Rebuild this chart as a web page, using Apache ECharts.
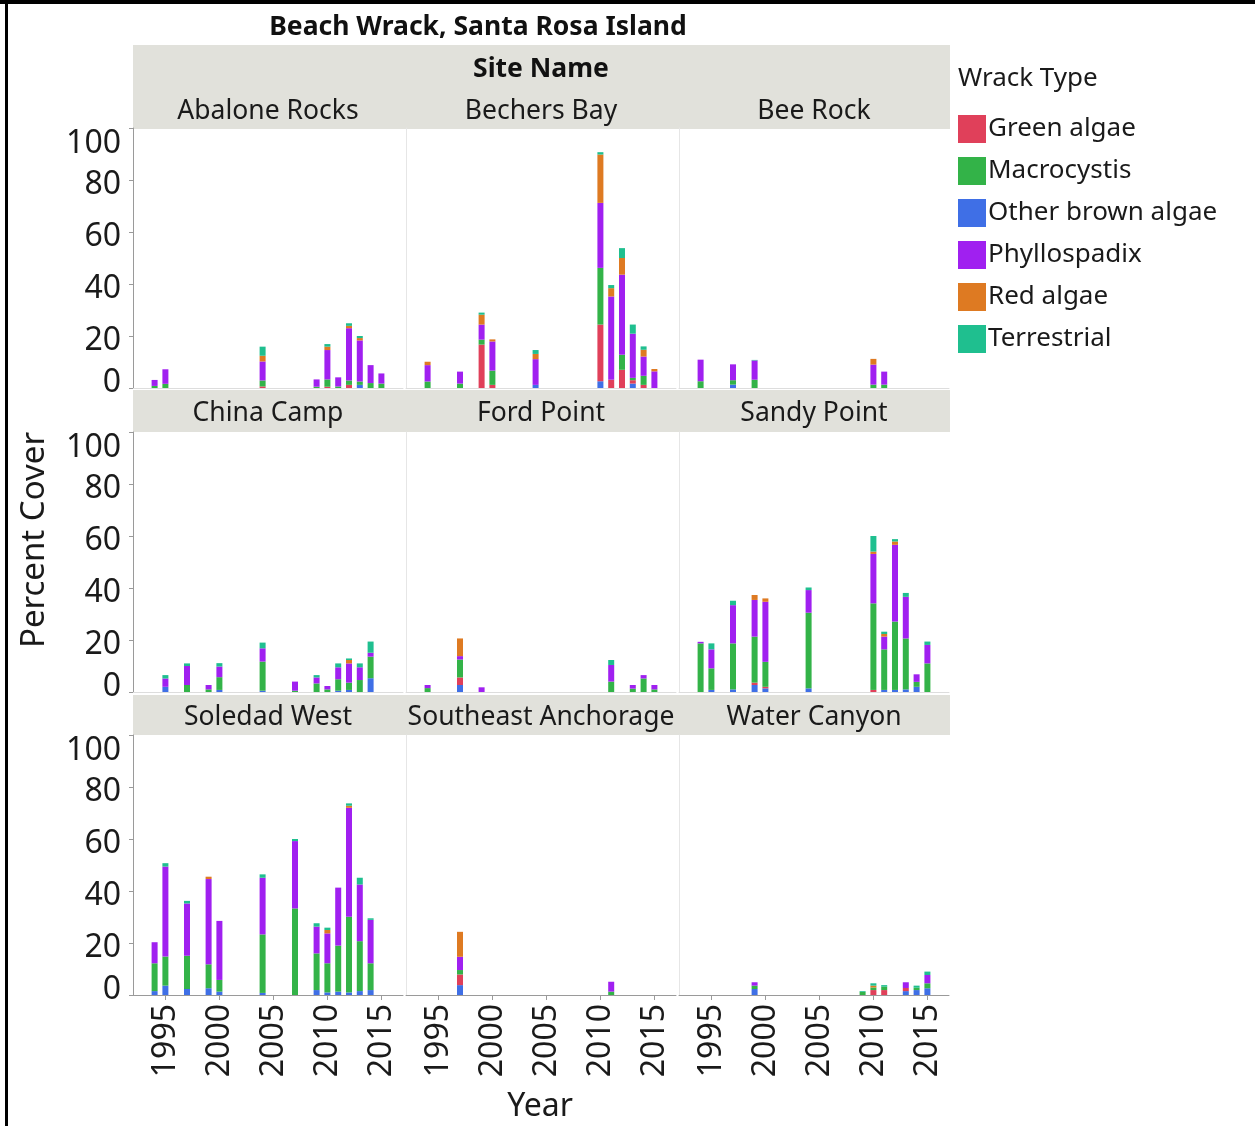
<!DOCTYPE html>
<html>
<head>
<meta charset="utf-8">
<script src="https://cdn.jsdelivr.net/npm/echarts@6/dist/echarts.min.js"></script>
<style>
html, body { margin: 0; padding: 0; background: #fff; }
#chart { width: 1255px; height: 1126px; }
</style>
</head>
<body>
<div id="chart"></div>
<script>
// legend order
const wrackTypes = ['Green algae', 'Macrocystis', 'Other brown algae', 'Phyllospadix', 'Red algae', 'Terrestrial'];
const wrackColors = ['#E0405A', '#33B348', '#3F6FE6', '#A020F0', '#DE7A22', '#1FBF8F'];
// stacking bottom -> top (indexes into wrackTypes)
const stackOrder = [2, 0, 1, 3, 4, 5];

const sites = ['Abalone Rocks', 'Bechers Bay', 'Bee Rock', 'China Camp', 'Ford Point', 'Sandy Point',
  'Soledad West', 'Southeast Anchorage', 'Water Canyon'];
const years = [];
for (let y = 1992; y <= 2017; y++) years.push(String(y));
const xTicks = ['1995', '2000', '2005', '2010', '2015'];
const yTicks = [0, 20, 40, 60, 80, 100];

// year, green algae, macrocystis, other brown, phyllospadix, red algae, terrestrial
const abaloneRocks = [
  [1994, 0, 0.8, 0, 2.3, 0, 0],
  [1995, 0, 1.6, 0, 5.6, 0, 0],
  [2004, 0.6, 2.3, 0, 7.3, 2.2, 3.5],
  [2009, 0, 0.5, 0, 2.8, 0, 0],
  [2010, 0.5, 2.8, 0, 11.3, 1.3, 1.0],
  [2011, 0, 0.6, 0, 3.5, 0, 0],
  [2012, 1.2, 1.7, 0, 20.1, 0.9, 1.0],
  [2013, 0, 1.3, 1.2, 15.8, 0.9, 0.8],
  [2014, 0, 1.9, 0, 6.9, 0, 0],
  [2015, 0, 1.7, 0, 3.9, 0, 0]
];
const bechersBay = [
  [1994, 0, 2.5, 0, 6.3, 1.3, 0],
  [1997, 0, 1.7, 0, 4.6, 0, 0],
  [1999, 16.7, 1.9, 0, 5.8, 3.8, 0.8],
  [2000, 1.2, 5.5, 0, 11.2, 0.8, 0],
  [2004, 0, 0, 1.2, 9.9, 2.0, 1.5],
  [2010, 21.8, 21.8, 2.6, 25.0, 18.6, 0.9],
  [2011, 3.2, 0, 0, 32.0, 3.2, 1.2],
  [2012, 7.0, 5.8, 0, 30.8, 6.4, 3.8],
  [2013, 1.3, 0.9, 1.7, 17.0, 0, 3.5],
  [2014, 1.2, 3.5, 0, 7.4, 2.6, 1.3],
  [2015, 0, 0, 0, 6.4, 0.9, 0]
];
const beeRock = [
  [1994, 0, 2.6, 0, 8.3, 0, 0],
  [1997, 0, 1.7, 1.3, 6.1, 0, 0],
  [1999, 0, 3.2, 0, 7.4, 0, 0.2],
  [2010, 0, 1.3, 0, 7.7, 2.2, 0],
  [2011, 0, 1.3, 0, 5.0, 0, 0]
];
const chinaCamp = [
  [1995, 0, 0, 2.0, 3.2, 0, 1.3],
  [1997, 0, 2.7, 0, 7.3, 0, 1.0],
  [1999, 0, 1.0, 0, 1.7, 0, 0],
  [2000, 0, 4.9, 0.8, 4.1, 0, 1.3],
  [2004, 0, 11.2, 0.5, 5.1, 0, 2.2],
  [2007, 0, 0.5, 0, 3.5, 0, 0],
  [2009, 0, 3.3, 0, 2.3, 0, 0.9],
  [2010, 0, 1.0, 0, 1.3, 0, 0],
  [2011, 0, 4.4, 0.5, 4.6, 0, 1.5],
  [2012, 0, 2.8, 0.8, 7.4, 1.3, 0.6],
  [2013, 0, 4.6, 0, 4.9, 0, 1.5],
  [2014, 0, 8.3, 5.3, 1.5, 0, 4.3]
];
const fordPoint = [
  [1994, 0, 1.5, 0, 1.2, 0, 0],
  [1997, 2.9, 6.9, 2.7, 1.3, 6.8, 0],
  [1999, 0, 0, 0, 1.8, 0, 0],
  [2011, 0, 4.0, 0, 6.4, 0, 1.9],
  [2013, 0, 1.3, 0, 1.4, 0, 0],
  [2014, 0, 5.2, 0, 1.3, 0, 0],
  [2015, 0, 1.0, 0, 1.7, 0, 0]
];
const sandyPoint = [
  [1994, 0, 18.7, 0, 0.6, 0, 0],
  [1995, 0, 8.3, 0.8, 7.3, 0, 2.3],
  [1997, 0, 17.7, 1.0, 14.7, 0, 1.7],
  [1999, 0.9, 17.7, 2.7, 14.1, 1.9, 0],
  [2000, 0.6, 9.6, 1.4, 23.1, 1.3, 0],
  [2004, 0, 29.1, 1.4, 8.7, 0, 1.0],
  [2010, 0.8, 33.3, 0, 19.0, 0.9, 6.0],
  [2011, 0, 15.6, 0.8, 4.9, 1.0, 0.9],
  [2012, 0, 26.3, 0.8, 29.5, 1.3, 0.9],
  [2013, 0, 19.6, 1.0, 16.0, 0, 1.5],
  [2014, 0, 1.9, 2.0, 2.9, 0, 0],
  [2015, 0, 11.0, 0, 7.1, 0, 1.3]
];
const soledadWest = [
  [1994, 0, 10.7, 1.5, 8.1, 0, 0],
  [1995, 0, 11.2, 3.6, 34.6, 0, 1.3],
  [1997, 0, 12.8, 2.3, 20.1, 0, 1.0],
  [1999, 0, 9.2, 2.6, 32.8, 0.9, 0],
  [2000, 0, 4.5, 1.3, 22.7, 0, 0],
  [2004, 0, 22.5, 0.8, 21.8, 0, 1.3],
  [2007, 0, 33.3, 0, 25.9, 0, 0.8],
  [2009, 0, 14.1, 1.9, 10.3, 0, 1.3],
  [2010, 0, 11.2, 1.0, 11.5, 1.3, 0.9],
  [2011, 0, 17.7, 1.3, 22.3, 0, 0],
  [2012, 0, 29.1, 1.0, 41.9, 0.8, 0.9],
  [2013, 0, 19.2, 1.5, 21.8, 0, 2.6],
  [2014, 0, 10.3, 1.9, 16.7, 0, 0.6]
];
const southeastAnchorage = [
  [1997, 4.1, 1.7, 3.8, 5.1, 9.6, 0],
  [2011, 0, 1.3, 0, 3.8, 0, 0]
];
const waterCanyon = [
  [1999, 0, 1.3, 2.3, 1.3, 0, 0],
  [2009, 0, 1.2, 0, 0, 0, 0.3],
  [2010, 1.9, 1.0, 0, 0, 0.7, 0.9],
  [2011, 1.9, 1.3, 0, 0, 0, 0.6],
  [2013, 1.2, 0, 1.5, 2.2, 0, 0],
  [2014, 0, 0.9, 1.9, 0, 0, 0.8],
  [2015, 0, 1.9, 2.6, 3.2, 0, 1.3]
];
const siteData = [abaloneRocks, bechersBay, beeRock, chinaCamp, fordPoint, sandyPoint,
  soledadWest, southeastAnchorage, waterCanyon];

const FONT = '"Noto Sans", "Open Sans", sans-serif';
const colLeft = [133, 406, 679];
const rowTop = [128, 432, 735];
const panelW = 270, panelH = 260;

function valuesFor(rows, t) {
  return years.map(y => {
    const row = rows.find(r => String(r[0]) === y);
    return row && row[1 + t] > 0 ? row[1 + t] : null;
  });
}

const grids = [], xAxes = [], yAxes = [], series = [];
sites.forEach((site, k) => {
  const r = Math.floor(k / 3), c = k % 3;
  grids.push({ left: colLeft[c], top: rowTop[r], width: panelW, height: panelH });
  xAxes.push({
    gridIndex: k, type: 'category', data: years, boundaryGap: false,
    axisLine: { show: true, lineStyle: { color: r === 2 ? '#9a9a9a' : '#dddddd', width: 1 } },
    axisTick: {
      show: r === 2, length: 5, lineStyle: { color: '#9a9a9a' },
      interval: (i, v) => xTicks.includes(v)
    },
    axisLabel: {
      show: r === 2, rotate: 90, fontSize: 32, fontFamily: FONT, color: '#1a1a1a', margin: 9,
      interval: (i, v) => xTicks.includes(v)
    },
    splitLine: { show: false }
  });
  yAxes.push({
    gridIndex: k, type: 'value', min: 0, max: 100, interval: 20,
    axisLine: { show: true, lineStyle: { color: c === 0 ? '#9a9a9a' : '#e6e6e6', width: 1 } },
    axisTick: { show: c === 0, length: 4, lineStyle: { color: '#9a9a9a' } },
    axisLabel: {
      show: c === 0, fontSize: 32, fontFamily: FONT, color: '#1a1a1a', margin: 12,
      formatter: v => v === 0 ? '{lo|0}' : v === 100 ? '{hi|100}' : '{n|' + v + '}',
      rich: {
        n: { fontSize: 32, fontFamily: FONT, color: '#1a1a1a', padding: [9, 0, 0, 0] },
        lo: { fontSize: 32, fontFamily: FONT, color: '#1a1a1a', padding: [0, 0, 10, 0] },
        hi: { fontSize: 32, fontFamily: FONT, color: '#1a1a1a', padding: [32, 0, 0, 0] }
      }
    },
    splitLine: { show: false }
  });
  stackOrder.forEach(t => {
    series.push({
      name: wrackTypes[t], type: 'bar', stack: 'site' + k,
      xAxisIndex: k, yAxisIndex: k, barWidth: 6,
      itemStyle: { color: wrackColors[t] },
      data: valuesFor(siteData[k], t)
    });
  });
});

const stripColor = '#E1E1DB';
const graphics = [
  { type: 'rect', shape: { x: 133, y: 45, width: 817, height: 84 }, style: { fill: stripColor } },
  { type: 'rect', shape: { x: 133, y: 390, width: 817, height: 42 }, style: { fill: stripColor } },
  { type: 'rect', shape: { x: 133, y: 695, width: 817, height: 40 }, style: { fill: stripColor } },
  { type: 'text', x: 478, y: 27, style: {
      text: 'Beach Wrack, Santa Rosa Island', fontSize: 26.5, fontWeight: 'bold', fontFamily: FONT, fill: '#111',
      align: 'center', verticalAlign: 'middle'
    } },
  { type: 'text', x: 541, y: 69, style: {
      text: 'Site Name', fontSize: 26.5, fontWeight: 'bold', fontFamily: FONT, fill: '#111',
      align: 'center', verticalAlign: 'middle'
    } },
  { type: 'text', x: 958, y: 79, style: {
      text: 'Wrack Type', fontSize: 26, fontFamily: FONT, fill: '#1a1a1a', verticalAlign: 'middle'
    } },
  { type: 'text', x: 35, y: 540, rotation: Math.PI / 2, style: {
      text: 'Percent Cover', fontSize: 33, fontFamily: FONT, fill: '#1a1a1a',
      align: 'center', verticalAlign: 'middle'
    } },
  { type: 'text', x: 540, y: 1107, style: {
      text: 'Year', fontSize: 32, fontFamily: FONT, fill: '#1a1a1a',
      align: 'center', verticalAlign: 'middle'
    } },
  { type: 'rect', shape: { x: 5, y: 0, width: 3, height: 1126 }, style: { fill: '#000' } },
  { type: 'rect', shape: { x: 0, y: 0, width: 1255, height: 4 }, style: { fill: '#000' } }
];
const stripY = [111, 413, 717];
sites.forEach((site, k) => {
  const r = Math.floor(k / 3), c = k % 3;
  graphics.push({ type: 'text', x: colLeft[c] + panelW / 2, y: stripY[r], style: {
    text: site, fontSize: 26.5, fontFamily: FONT, fill: '#1a1a1a', align: 'center', verticalAlign: 'middle'
  } });
});

const chart = echarts.init(document.getElementById('chart'));
chart.setOption({
  animation: false,
  backgroundColor: '#fff',
  textStyle: { fontFamily: FONT },
  grid: grids,
  xAxis: xAxes,
  yAxis: yAxes,
  legend: {
    data: wrackTypes, orient: 'vertical', left: 953, top: 110,
    itemWidth: 28, itemHeight: 28, itemGap: 14, icon: 'rect',
    textStyle: { fontSize: 26, fontFamily: FONT, color: '#1a1a1a', padding: [0, 0, 0, -3] },
    selectedMode: false
  },
  graphic: graphics,
  series: series
});
</script>
</body>
</html>
